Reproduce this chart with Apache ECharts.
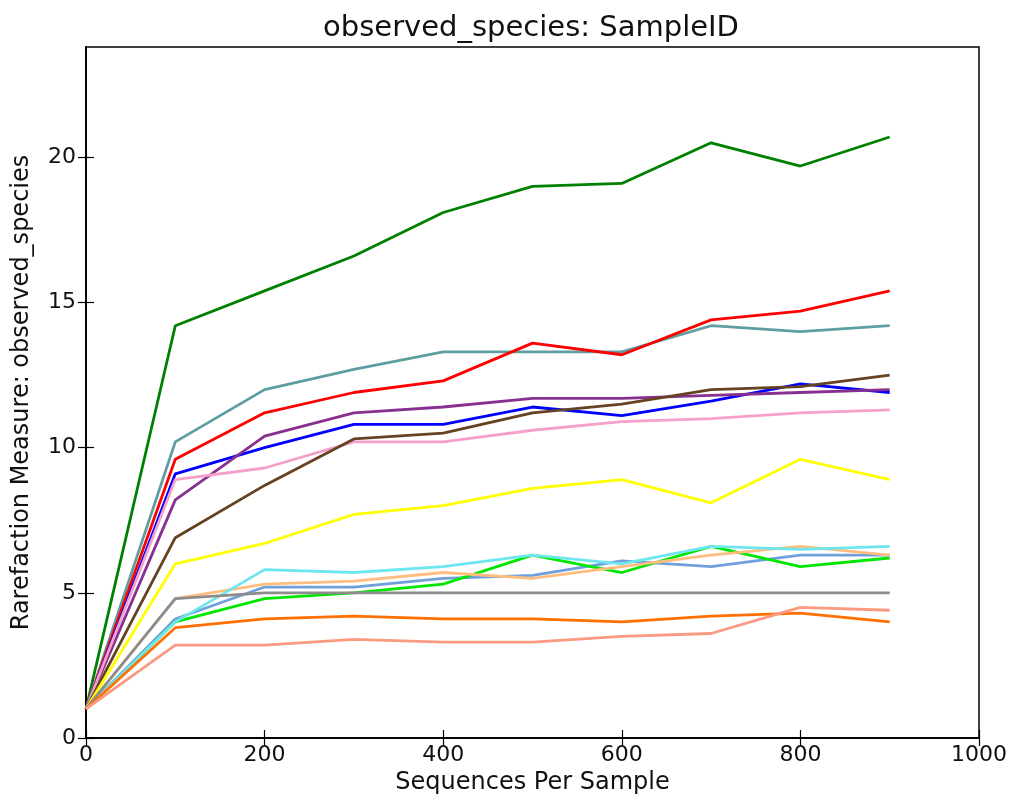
<!DOCTYPE html>
<html lang="en">
<head>
    <meta charset="utf-8">
    <title>observed_species: SampleID</title>
    <script type="text/javascript" src="https://cdn.jsdelivr.net/npm/echarts@6/dist/echarts.min.js"></script>
    <style>
        html, body { margin: 0; padding: 0; background: #fff; }
    </style>
</head>
<body>
    <div id="main" style="width: 1010px;height:802px;"></div>

<script type="text/javascript">
    // sequences per sample
    var xdata = [0, 100, 200, 300, 400, 500, 600, 700, 800, 900];

    // one array per sample
    var ydarkgreen = [1.0, 14.2, 15.4, 16.6, 18.1, 19.0, 19.1, 20.5, 19.7, 20.7];
    var yred       = [1.0, 9.6, 11.2, 11.9, 12.3, 13.6, 13.2, 14.4, 14.7, 15.4];
    var yteal      = [1.0, 10.2, 12.0, 12.7, 13.3, 13.3, 13.3, 14.2, 14.0, 14.2];
    var yblue      = [1.0, 9.1, 10.0, 10.8, 10.8, 11.4, 11.1, 11.6, 12.2, 11.9];
    var ypurple    = [1.0, 8.2, 10.4, 11.2, 11.4, 11.7, 11.7, 11.8, 11.9, 12.0];
    var ybrown     = [1.0, 6.9, 8.7, 10.3, 10.5, 11.2, 11.5, 12.0, 12.1, 12.5];
    var ypink      = [1.0, 8.9, 9.3, 10.2, 10.2, 10.6, 10.9, 11.0, 11.2, 11.3];
    var yyellow    = [1.0, 6.0, 6.7, 7.7, 8.0, 8.6, 8.9, 8.1, 9.6, 8.9];
    var ysteel     = [1.0, 4.1, 5.2, 5.2, 5.5, 5.6, 6.1, 5.9, 6.3, 6.3];
    var ylime      = [1.0, 4.0, 4.8, 5.0, 5.3, 6.3, 5.7, 6.6, 5.9, 6.2];
    var ypeach     = [1.0, 4.8, 5.3, 5.4, 5.7, 5.5, 5.9, 6.3, 6.6, 6.3];
    var ycyan      = [1.0, 4.0, 5.8, 5.7, 5.9, 6.3, 6.0, 6.6, 6.5, 6.6];
    var ygray      = [1.0, 4.8, 5.0, 5.0, 5.0, 5.0, 5.0, 5.0, 5.0, 5.0];
    var yorange    = [1.0, 3.8, 4.1, 4.2, 4.1, 4.1, 4.0, 4.2, 4.3, 4.0];
    var ysalmon    = [1.0, 3.2, 3.2, 3.4, 3.3, 3.3, 3.5, 3.6, 4.5, 4.4];

    var xticks = [0, 200, 400, 600, 800, 1000];
    var yticks = [0, 5, 10, 15, 20];
    var ytop = 23.8;

    function pairs(ys) {
        var out = [];
        for (var i = 0; i < xdata.length; i++) {
            out.push([xdata[i], ys[i]]);
        }
        return out;
    }

    function line(name, color, ys) {
        return {
            name: name,
            type: 'line',
            data: pairs(ys),
            showSymbol: false,
            symbol: 'none',
            animation: false,
            lineStyle: { color: color, width: 2.8 },
            itemStyle: { color: color }
        };
    }

    var myChart = echarts.init(document.getElementById("main"));
    var font = 'DejaVu Sans';
    var tick = { show: true, inside: true, length: 8, lineStyle: { color: '#000', width: 1.2 } };
    var ytick = { show: true, inside: true, length: 8, customValues: yticks, lineStyle: { color: '#000', width: 1.2 } };
    var axLine = { show: true, lineStyle: { color: '#000', width: 1.5 } };

    var option = {
        backgroundColor: '#fff',
        animation: false,
        title: {
            text: 'observed_species: SampleID',
            left: 526,
            textAlign: 'center',
            top: 9,
            textStyle: { fontFamily: font, fontSize: 29, fontWeight: 'normal', color: '#111' }
        },
        grid: { left: 86, right: 31, top: 47, bottom: 64, show: true, borderColor: '#000', borderWidth: 1.5, backgroundColor: 'transparent' },
        xAxis: [
            {
                type: 'value',
                min: xticks[0],
                max: xticks[xticks.length - 1],
                interval: 200,
                name: 'Sequences Per Sample',
                nameLocation: 'middle',
                nameGap: 32,
                nameTextStyle: { fontFamily: font, fontSize: 24, color: '#111' },
                axisLine: axLine,
                axisTick: tick,
                axisLabel: { fontFamily: font, fontSize: 22, color: '#111', margin: 6, formatter: function (v) { return String(v); } },
                splitLine: { show: false }
            },
            {
                type: 'value',
                position: 'top',
                min: xticks[0],
                max: xticks[xticks.length - 1],
                interval: 200,
                axisLine: axLine,
                axisTick: tick,
                axisLabel: { show: false },
                splitLine: { show: false }
            }
        ],
        yAxis: [
            {
                type: 'value',
                min: yticks[0],
                max: ytop,
                interval: 5,
                name: 'Rarefaction Measure: observed_species',
                nameLocation: 'middle',
                nameGap: 52,
                nameTextStyle: { fontFamily: font, fontSize: 24, color: '#111' },
                axisLine: axLine,
                axisTick: ytick,
                axisLabel: { fontFamily: font, fontSize: 22, color: '#111', margin: 10, customValues: yticks },
                splitLine: { show: false }
            },
            {
                type: 'value',
                position: 'right',
                min: yticks[0],
                max: ytop,
                interval: 5,
                axisLine: axLine,
                axisTick: ytick,
                axisLabel: { show: false },
                splitLine: { show: false }
            }
        ],
        series: [
            line('s1', '#008000', ydarkgreen),
            line('s2', '#5f9ea0', yteal),
            line('s3', '#ff0000', yred),
            line('s4', '#0000ff', yblue),
            line('s5', '#88308f', ypurple),
            line('s6', '#f5a0c8', ypink),
            line('s7', '#654321', ybrown),
            line('s8', '#ffff00', yyellow),
            line('s9', '#6fa0dc', ysteel),
            line('s10', '#00e600', ylime),
            line('s11', '#ffbe80', ypeach),
            line('s12', '#6ee6f0', ycyan),
            line('s13', '#8c8c8c', ygray),
            line('s14', '#ff7000', yorange),
            line('s15', '#fa9a80', ysalmon),
            // empty series so the top and right axes get drawn
            { type: 'line', xAxisIndex: 1, yAxisIndex: 1, data: [], symbol: 'none' }
        ]
    };
    myChart.setOption(option);
</script>
</body>
</html>
